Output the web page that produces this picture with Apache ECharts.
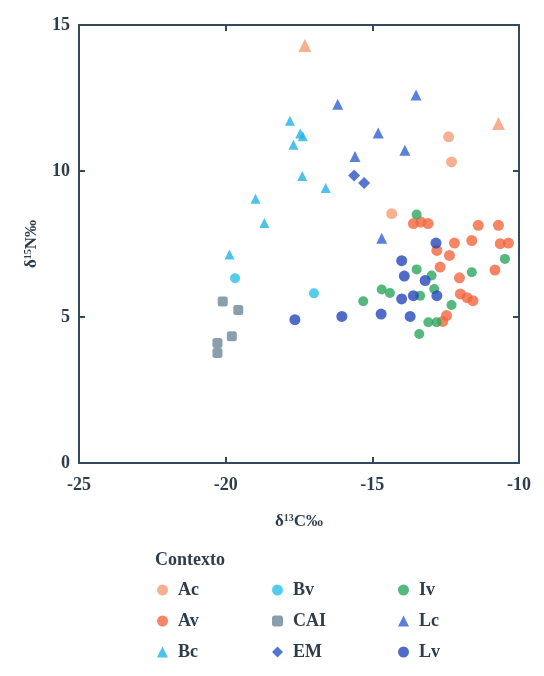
<!DOCTYPE html>
<html>
<head>
<meta charset="utf-8">
<script src="https://cdn.jsdelivr.net/npm/echarts@6/dist/echarts.min.js"></script>
<style>
  html, body { margin: 0; padding: 0; background: #fff; }
  #chart { width: 544px; height: 676px; }
</style>
</head>
<body>
<div id="chart"></div>
<script>
// values: [d13C, d15N]
const acRound = [[-12.4, 11.17], [-12.3, 10.31], [-14.34, 8.54]];
const acTri = [[-17.3, 14.3], [-10.7, 11.63]];
const av = [
  [-13.6, 8.2], [-13.35, 8.25], [-13.1, 8.2], [-11.39, 8.14], [-10.7, 8.14],
  [-12.2, 7.53], [-11.61, 7.62], [-10.64, 7.51], [-10.36, 7.53], [-12.8, 7.28],
  [-12.37, 7.11], [-12.69, 6.71], [-10.82, 6.61], [-12.03, 6.34], [-12.0, 5.79],
  [-11.77, 5.66], [-11.57, 5.56], [-12.47, 5.05], [-12.6, 4.85]
];
const bc = [
  [-17.81, 11.72], [-17.46, 11.28], [-17.37, 11.19], [-17.69, 10.9], [-17.39, 9.83],
  [-16.59, 9.42], [-18.98, 9.05], [-18.68, 8.22], [-19.87, 7.14]
];
const bv = [[-19.68, 6.33], [-16.99, 5.81]];
const cai = [[-20.1, 5.53], [-19.57, 5.24], [-19.79, 4.34], [-20.28, 4.11], [-20.28, 3.77]];
const em = [[-15.62, 9.85], [-15.28, 9.59]];
const iv = [
  [-13.49, 8.51], [-13.49, 6.63], [-12.98, 6.42], [-12.89, 5.96], [-14.68, 5.94],
  [-14.4, 5.82], [-13.37, 5.73], [-15.31, 5.54], [-13.09, 4.82], [-12.81, 4.82],
  [-13.4, 4.42], [-10.48, 6.99], [-11.61, 6.53], [-12.3, 5.41]
];
const lc = [[-16.18, 12.29], [-13.51, 12.6], [-14.8, 11.3], [-15.59, 10.5], [-13.89, 10.71], [-14.68, 7.7]];
const lv = [
  [-12.83, 7.53], [-14.0, 6.93], [-13.91, 6.4], [-13.2, 6.25], [-14.0, 5.62],
  [-13.6, 5.73], [-12.8, 5.73], [-16.04, 5.02], [-14.7, 5.1], [-13.71, 5.02], [-17.64, 4.91]
];
const xTicks = [-25, -20, -15, -10];
const yTicks = [0, 5, 10, 15];

const ink = '#2e3d4c';
const font = "'Liberation Serif', 'DejaVu Serif', serif";
const chart = echarts.init(document.getElementById('chart'));

const axisBase = {
  type: 'value',
  interval: 5,
  axisLine: { show: true, onZero: false, lineStyle: { color: '#34495e', width: 2 } },
  axisTick: { show: true, inside: true, length: 6, lineStyle: { color: '#34495e', width: 2 } },
  splitLine: { show: false }
};
const tickText = { color: ink, fontFamily: font, fontWeight: 'bold', fontSize: 18 };

const sym = (name, data, color, symbol, size) => ({
  name, type: 'scatter', data, symbol, symbolSize: size || 10,
  itemStyle: { color }
});

const legendBase = {
  orient: 'vertical',
  top: 576,
  itemWidth: 11,
  itemHeight: 11,
  itemGap: 13,
  textStyle: {
    color: ink, fontFamily: font, fontWeight: 'bold', fontSize: 18, lineHeight: 18,
    padding: [0, 0, 0, 5]
  }
};

const richName = {
  d: { color: ink, fontFamily: font, fontWeight: 'bold', fontSize: 17 },
  s: { color: ink, fontFamily: font, fontWeight: 'bold', fontSize: 10, verticalAlign: 'top', padding: [0, 0, 8, 0] }
};

chart.setOption({
  animation: false,
  title: {
    text: 'Contexto', left: 150, top: 546,
    textStyle: { color: ink, fontFamily: font, fontWeight: 'bold', fontSize: 18 }
  },
  legend: [
    Object.assign({ left: 152, data: ['Ac', 'Av', 'Bc'] }, legendBase),
    Object.assign({ left: 267, data: ['Bv', 'CAI', 'EM'] }, legendBase),
    Object.assign({ left: 393, data: ['Iv', 'Lc', 'Lv'] }, legendBase)
  ],
  grid: { left: 79, right: 25, top: 25, bottom: 213 },
  xAxis: [
    Object.assign({}, axisBase, {
      min: xTicks[0], max: xTicks[xTicks.length - 1], position: 'bottom',
      axisLabel: Object.assign({ margin: 13 }, tickText),
      name: '{d|δ}{s|13}{d|C‰}', nameLocation: 'middle', nameGap: 50,
      nameTextStyle: { rich: richName }
    }),
    Object.assign({}, axisBase, {
      min: xTicks[0], max: xTicks[xTicks.length - 1], position: 'top',
      axisLabel: { show: false }
    })
  ],
  yAxis: [
    Object.assign({}, axisBase, {
      min: yTicks[0], max: yTicks[yTicks.length - 1], position: 'left',
      axisLabel: Object.assign({ margin: 9 }, tickText),
      name: '{d|δ}{s|15}{d|N‰}', nameLocation: 'middle', nameGap: 38, nameRotate: 90,
      nameTextStyle: { rich: richName }
    }),
    Object.assign({}, axisBase, {
      min: yTicks[0], max: yTicks[yTicks.length - 1], position: 'right',
      axisLabel: { show: false }
    })
  ],
  series: [
    sym('Ac', acRound, '#f59c76', 'circle', 11),
    sym('Av', av, '#f4673e', 'circle', 11),
    sym('Bc', bc, '#1fb4e4', 'triangle', 10),
    sym('Bv', bv, '#29c0e6', 'circle', 10),
    sym('CAI', cai, '#6b8797', 'roundRect', 10),
    sym('EM', em, '#2c52c4', 'diamond', 12),
    sym('Iv', iv, '#2aa65c', 'circle', 10),
    sym('Lc', lc, '#2f60d2', 'triangle', 11),
    sym('Lv', lv, '#2546ba', 'circle', 11),
    sym('Ac', acTri, '#f59c76', 'triangle', 13)
  ]
});
</script>
</body>
</html>
